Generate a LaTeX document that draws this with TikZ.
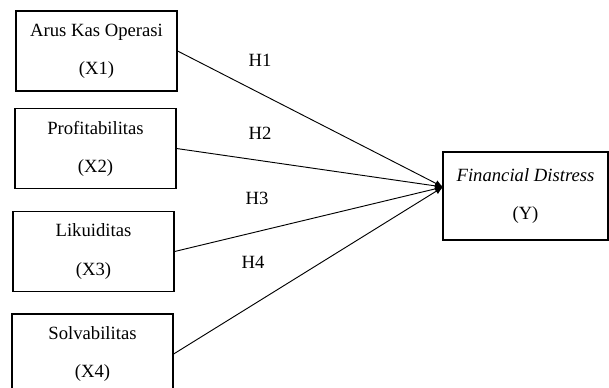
\documentclass[tikz,border=0pt]{standalone}
\usepackage{fontspec}
\setmainfont{Liberation Serif}
\usetikzlibrary{arrows.meta}
\begin{document}
\begin{tikzpicture}[x=0.75pt,y=-0.75pt,
	varbox/.style={draw, line width=0.9pt, minimum width=120.75pt, minimum height=60pt, inner sep=0pt, align=center, font=\fontsize{14}{28.5}\selectfont},
	hlabel/.style={font=\fontsize{14}{17}\selectfont},
	link/.style={line width=0.7pt, -{Latex[length=6pt,width=5pt]}}]

\clip (0,0) rectangle (609,387);

\foreach \n/\x/\y/\txt in {1/96.5/51/Arus Kas Operasi, 2/95.5/148.5/Profitabilitas, 3/93.5/251.5/Likuiditas, 4/92.5/354/Solvabilitas}
	\node[varbox] (x\n) at (\x,\y) {\txt\\(X\n)};

\node[varbox, minimum width=123.75pt, minimum height=66pt] (y) at (525.5,196) {\textit{Financial Distress}\\(Y)};
\coordinate (yin) at (443,187);

\foreach \n in {1,...,4}
	\draw[link] (x\n.east) -- (yin);

\foreach \n/\x/\y in {1/260/60, 2/260/133, 3/257/198, 4/253/262}
	\node[hlabel] (h\n) at (\x,\y) {H\n};

\end{tikzpicture}
\end{document}
